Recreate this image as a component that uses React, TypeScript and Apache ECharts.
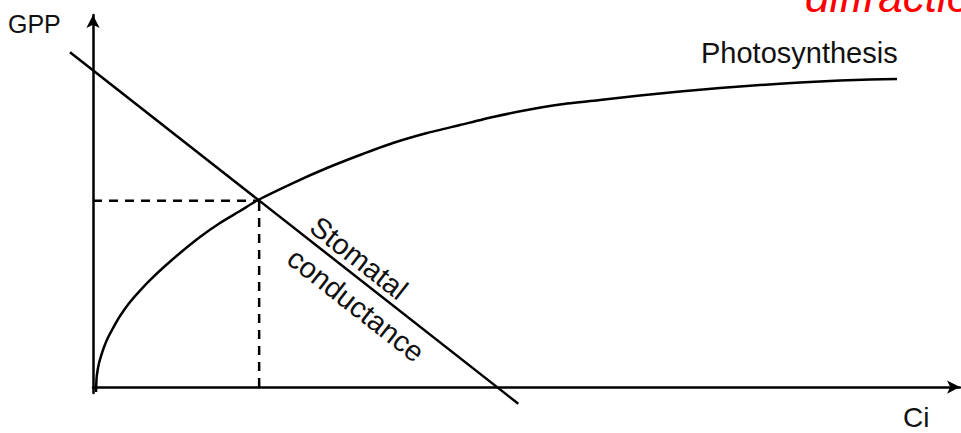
import React, { useEffect, useRef } from "react";
import * as echarts from "echarts";

// Photosynthesis curve (Ci vs GPP, arbitrary units)
const photoX = [0.35, 0.41, 0.52, 0.7, 0.93, 1.28, 1.74, 2.32, 3.13, 4.29, 5.45, 6.61, 8.35, 10.09, 12.4, 14.72, 17.04, 19.13, 23.18, 27.12, 30.95, 34.77, 38.72, 42.54, 46.37, 50.31, 54.13, 58.76, 63.4, 68.04, 72.67, 77.31, 81.95, 86.59, 90.07, 93.2];
const photoY = [-1.34, 2.28, 4.3, 6.45, 8.33, 10.75, 13.31, 15.86, 19.09, 22.85, 25.94, 28.76, 32.53, 36.02, 40.32, 44.09, 47.31, 50.27, 54.84, 58.87, 62.37, 65.59, 68.28, 70.43, 72.58, 74.46, 75.94, 77.15, 78.36, 79.44, 80.38, 81.18, 81.85, 82.39, 82.66, 82.8];

// Stomatal conductance line
const condX = [-2.67, 49.3];
const condY = [90.0, -4.52];

// Intersection (equilibrium point)
const crossX = 19.26;
const crossY = 50.1;

const axisNames = { y: "GPP", x: "Ci" };
const curveLabel = "Photosynthesis";
const lineLabels = ["Stomatal", "conductance"];
const titleFragment = "diffraction";

export default function App() {
  const ref = useRef<HTMLDivElement>(null);
  useEffect(() => {
    if (!ref.current) return;
    const chart = echarts.init(ref.current, null, { renderer: "svg" });
    const font = "Liberation Sans, Arial, sans-serif";
    const black = "#000";
    const rot = -Math.atan(0.785);
    const hidden = {
      axisLine: { show: false },
      axisTick: { show: false },
      axisLabel: { show: false },
      splitLine: { show: false },
    };
    const arrowLine = { onZero: true, symbol: ["none", "arrow"], symbolSize: [10, 13], lineStyle: { color: black, width: 2.5 } };
    chart.setOption({
      animation: false,
      grid: [
        { left: 93, right: 1, top: 15, bottom: 40 },
        { left: 67.12, right: 1, top: 15, bottom: 23.7 },
      ],
      xAxis: [
        {
          type: "value", gridIndex: 0, min: 0, max: 100.5,
          axisLine: arrowLine, axisTick: { show: false }, axisLabel: { show: false }, splitLine: { show: false },
        },
        { type: "value", gridIndex: 1, min: -3, max: 100.5, ...hidden },
      ],
      yAxis: [
        {
          type: "value", gridIndex: 0, min: -1.6, max: 100,
          axisLine: arrowLine, axisTick: { show: false }, axisLabel: { show: false }, splitLine: { show: false },
        },
        { type: "value", gridIndex: 1, min: -6, max: 100, ...hidden },
      ],
      series: [
        {
          type: "line",
          data: photoX.map((x, i) => [x, photoY[i]]),
          smooth: 0.2,
          symbol: "none",
          clip: false,
          lineStyle: { color: black, width: 2.5 },
        },
        {
          type: "line",
          xAxisIndex: 1,
          yAxisIndex: 1,
          data: condX.map((x, i) => [x, condY[i]]),
          symbol: "none",
          clip: false,
          lineStyle: { color: black, width: 2.5 },
        },
        {
          type: "line",
          data: [[0, crossY], [crossX, crossY]],
          symbol: "none",
          lineStyle: { color: black, width: 2.5, type: [9, 7] },
        },
        {
          type: "line",
          data: [[crossX, 0], [crossX, crossY]],
          symbol: "none",
          lineStyle: { color: black, width: 2.5, type: [9, 7] },
        },
      ],
      graphic: [
        { type: "text", x: 8, y: 23.5, style: { text: axisNames.y, font: `25px ${font}`, fill: "#111", align: "left", verticalAlign: "middle" } },
        { type: "text", x: 903, y: 417.3, style: { text: axisNames.x, font: `28px ${font}`, fill: "#111", align: "left", verticalAlign: "middle" } },
        { type: "text", x: 701, y: 53, style: { text: curveLabel, font: `29px ${font}`, fill: "#111", align: "left", verticalAlign: "middle" } },
        { type: "text", x: 359, y: 258, rotation: rot, style: { text: lineLabels[0], font: `29px ${font}`, fill: "#111", align: "center", verticalAlign: "middle" } },
        { type: "text", x: 356, y: 305, rotation: rot, style: { text: lineLabels[1], font: `29px ${font}`, fill: "#111", align: "center", verticalAlign: "middle" } },
        { type: "text", x: 805, y: -3.2, style: { text: titleFragment, font: `italic 44px ${font}`, fill: "#ff0000", align: "left", verticalAlign: "middle" } },
      ],
    });
    return () => chart.dispose();
  }, []);
  return <div ref={ref} style={{ position: "absolute", left: 0, top: 0, width: 961, height: 433 }} />;
}
